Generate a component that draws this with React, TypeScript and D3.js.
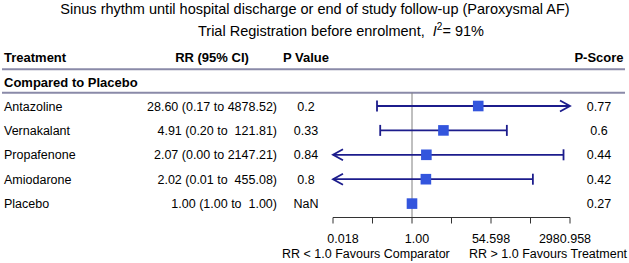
import React from "react";
import * as d3 from "d3";

const treatments = ["Antazoline", "Vernakalant", "Propafenone", "Amiodarone", "Placebo"];
const rrValues = [28.6, 4.91, 2.07, 2.02, 1.0];
const lowerValues = [0.17, 0.2, 0.0, 0.01, 1.0];
const upperValues = [4878.52, 121.81, 2147.21, 455.08, 1.0];
const pValues = ["0.2", "0.33", "0.84", "0.8", "NaN"];
const pScores = ["0.77", "0.6", "0.44", "0.42", "0.27"];
const tickExponents = [-4, -2, 0, 2, 4, 6, 8];
const labelExponents = [-4, 0, 4, 8];
const tickLabels = ["0.018", "1.00", "54.598", "2980.958"];

const W = 629;
const H = 263;
const FONT = "'Liberation Sans', Arial, Helvetica, sans-serif";
const LINE = "#1c1c8c";
const BOX = "#3355dd";
const RULE = "#8a8aa8";

function fmtUpper(v: number) {
  const s = v.toFixed(2);
  return s.length < 7 ? " ".repeat(Math.min(1, 7 - s.length)) + s : s;
}

export default function App() {
  const x = d3.scaleLog().domain([Math.exp(-4), Math.exp(8)]).range([333, 570]);
  const xLabel = d3.scaleLog().domain([Math.exp(-4), Math.exp(8)]).range([343, 565]);
  const [xMin, xMax] = x.range();
  const y = d3
    .scalePoint<string>()
    .domain(treatments)
    .range([106, 203.6]);
  const axisY = 217.5;
  const refX = x(1);

  return (
    <svg
      width={W}
      height={H}
      style={{ position: "absolute", left: 0, top: 0, background: "#fff" }}
      fontFamily={FONT}
    >
      <text x={315} y={14} fontSize={14.5} textAnchor="middle">
        Sinus rhythm until hospital discharge or end of study follow-up (Paroxysmal AF)
      </text>
      <text x={198} y={35.5} fontSize={14.5} xmlSpace="preserve" style={{ whiteSpace: "pre" }}>
        {"Trial Registration before enrolment,  "}
        <tspan fontStyle="italic">I</tspan>
        <tspan fontSize={10} dy={-6}>2</tspan>
        <tspan dy={6}>{"= 91%"}</tspan>
      </text>

      <g fontWeight="bold" fontSize={13}>
        <text x={4} y={61.5}>Treatment</text>
        <text x={212} y={61.5} textAnchor="middle">RR (95% CI)</text>
        <text x={306} y={61.5} textAnchor="middle">P Value</text>
        <text x={599} y={61.5} textAnchor="middle">P-Score</text>
        <text x={4} y={86.7}>Compared to Placebo</text>
      </g>
      <line x1={2} x2={625} y1={69.3} y2={69.3} stroke={RULE} strokeWidth={2} />
      <line x1={2} x2={625} y1={92.8} y2={92.8} stroke={RULE} strokeWidth={2} />

      <line x1={refX} x2={refX} y1={92.8} y2={axisY} stroke="#808080" strokeWidth={1} />

      {treatments.map((t, i) => {
        const cy = y(t)!;
        const rr = rrValues[i];
        const lo = lowerValues[i];
        const up = upperValues[i];
        const loClipped = lo <= Math.exp(-4);
        const upClipped = up >= Math.exp(8);
        const x1 = loClipped ? xMin : x(lo);
        const x2 = upClipped ? xMax : x(up);
        const ciText = `${rr.toFixed(2)} (${lo.toFixed(2)} to ${fmtUpper(up)})`;
        return (
          <g key={t}>
            <text x={4} y={cy + 4.5} fontSize={12.5}>{t}</text>
            <text x={277} y={cy + 4.5} fontSize={12.5} textAnchor="end" xmlSpace="preserve" style={{ whiteSpace: "pre" }}>
              {ciText}
            </text>
            <text x={306} y={cy + 4.5} fontSize={12.5} textAnchor="middle">{pValues[i]}</text>
            <text x={599} y={cy + 4.5} fontSize={12.5} textAnchor="middle">{pScores[i]}</text>
            {lo !== up && (
              <g stroke={LINE} strokeWidth={1.8} fill="none">
                <line x1={x1} x2={x2} y1={cy} y2={cy} />
                {loClipped ? (
                  <path d={`M${x1 + 10},${cy - 5.5} L${x1},${cy} L${x1 + 10},${cy + 5.5}`} />
                ) : (
                  <line x1={x1} x2={x1} y1={cy - 5.5} y2={cy + 5.5} />
                )}
                {upClipped ? (
                  <path d={`M${x2 - 10},${cy - 5.5} L${x2},${cy} L${x2 - 10},${cy + 5.5}`} />
                ) : (
                  <line x1={x2} x2={x2} y1={cy - 5.5} y2={cy + 5.5} />
                )}
              </g>
            )}
            <rect x={x(rr) - 5.3} y={cy - 5.3} width={10.6} height={10.6} fill={BOX} />
          </g>
        );
      })}

      <g stroke="#333" strokeWidth={1} fill="none">
        <line x1={xMin} x2={xMax} y1={axisY} y2={axisY} />
        {tickExponents.map((e) => (
          <line key={e} x1={x(Math.exp(e))} x2={x(Math.exp(e))} y1={axisY} y2={axisY + 6} />
        ))}
      </g>
      {labelExponents.map((e, i) => (
        <text key={e} x={xLabel(Math.exp(e))} y={243} fontSize={12.5} textAnchor="middle">
          {tickLabels[i]}
        </text>
      ))}
      <text x={282} y={257.5} fontSize={12.5}>RR &lt; 1.0 Favours Comparator</text>
      <text x={469} y={257.5} fontSize={12.5}>RR &gt; 1.0 Favours Treatment</text>
    </svg>
  );
}
